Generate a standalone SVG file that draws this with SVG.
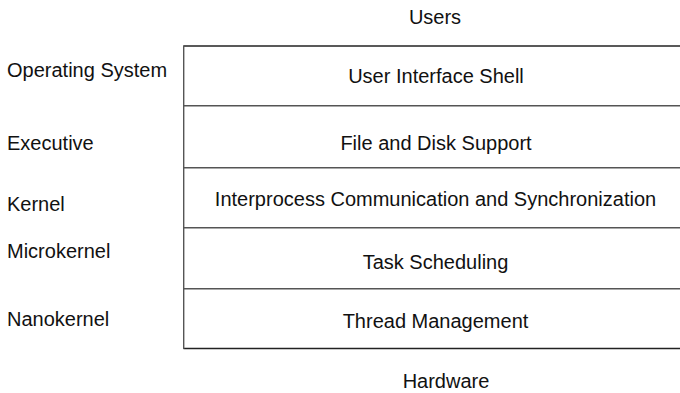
<svg xmlns="http://www.w3.org/2000/svg" width="680" height="393" viewBox="0 0 680 393">
<style>
text { font-family: "Liberation Sans", Arial, Helvetica, sans-serif; font-size: 20px; fill: #111; }
.c { text-anchor: middle; }
.edge { stroke: #222; stroke-width: 1.5; fill: none; }
.div { stroke: #555; stroke-width: 1.4; fill: none; }
</style>
<rect width="680" height="393" fill="#fff"/>
<g id="connectors">
  <line class="edge" x1="183.5" y1="46" x2="680" y2="46"/>
  <line class="edge" x1="183.5" y1="348.5" x2="680" y2="348.5"/>
  <line class="div" x1="183.7" y1="45.5" x2="183.7" y2="349"/>
  <line class="div" x1="183.5" y1="105.8" x2="680" y2="105.8"/>
  <line class="div" x1="183.5" y1="167.7" x2="680" y2="167.7"/>
  <line class="div" x1="183.5" y1="227.7" x2="680" y2="227.7"/>
  <line class="div" x1="183.5" y1="288.8" x2="680" y2="288.8"/>
</g>
<g id="users"><text class="c" x="435" y="24">Users</text></g>
<g id="hardware"><text class="c" x="446" y="387.5">Hardware</text></g>
<g id="layer-shell"><text class="c" x="436" y="83.3">User Interface Shell</text></g>
<g id="layer-file"><text class="c" x="436" y="150">File and Disk Support</text></g>
<g id="layer-ipc"><text class="c" x="435.5" y="206">Interprocess Communication and Synchronization</text></g>
<g id="layer-task"><text class="c" x="435.5" y="269.3">Task Scheduling</text></g>
<g id="layer-thread"><text class="c" x="435.5" y="327.7">Thread Management</text></g>
<g id="label-os"><text x="7" y="76.7">Operating System</text></g>
<g id="label-exec"><text x="7" y="150">Executive</text></g>
<g id="label-kernel"><text x="7" y="211">Kernel</text></g>
<g id="label-micro"><text x="7" y="257.7">Microkernel</text></g>
<g id="label-nano"><text x="7" y="325.7">Nanokernel</text></g>
</svg>
